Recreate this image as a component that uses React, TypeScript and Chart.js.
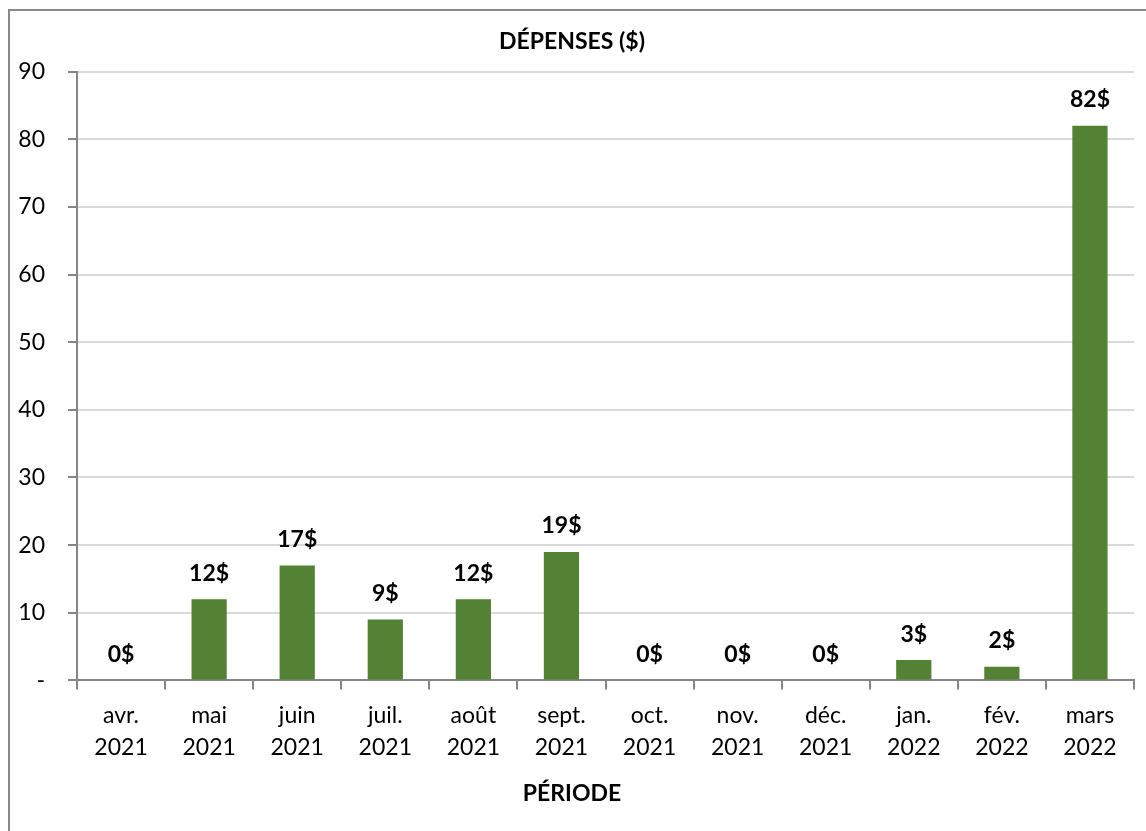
import React, { useEffect, useRef } from 'react';
import { Chart, registerables } from 'chart.js';

Chart.register(...registerables);

const categories: string[][] = [
  ['avr.', '2021'], ['mai', '2021'], ['juin', '2021'], ['juil.', '2021'],
  ['août', '2021'], ['sept.', '2021'], ['oct.', '2021'], ['nov.', '2021'],
  ['déc.', '2021'], ['jan.', '2022'], ['fév.', '2022'], ['mars', '2022'],
];
const depenses: number[] = [0, 12, 17, 9, 12, 19, 0, 0, 0, 3, 2, 82];
const yMin = 0;
const yMax = 90;
const yStep = 10;
const chartTitle = 'DÉPENSES ($)';
const xTitle = 'PÉRIODE';

const FONT = 'Lato';

const valueLabels = {
  id: 'valueLabels',
  afterDatasetsDraw(chart: any) {
    const ctx = chart.ctx;
    const meta = chart.getDatasetMeta(0);
    ctx.save();
    ctx.font = `bold 23px ${FONT}`;
    ctx.fillStyle = '#000';
    ctx.textAlign = 'center';
    ctx.textBaseline = 'middle';
    meta.data.forEach((el: any, i: number) => {
      ctx.fillText(`${depenses[i]}$`, el.x, el.y - 26);
    });
    ctx.restore();
  },
};

export default function App() {
  const ref = useRef<HTMLCanvasElement>(null);

  useEffect(() => {
    if (!ref.current) return;
    Chart.defaults.font.family = FONT;
    const chart = new Chart(ref.current, {
      type: 'bar',
      data: {
        labels: categories,
        datasets: [
          {
            data: depenses,
            backgroundColor: '#548235',
            barPercentage: 0.4,
            categoryPercentage: 1.0,
          },
        ],
      },
      options: {
        animation: false,
        responsive: false,
        devicePixelRatio: 1,
        layout: { padding: { left: 0, right: 12, top: 0, bottom: 0 } },
        plugins: {
          legend: { display: false },
          tooltip: { enabled: false },
          title: {
            display: true,
            text: chartTitle,
            color: '#000',
            font: { size: 23, weight: 'bold', lineHeight: 1.2 },
            padding: { top: 17, bottom: 16 },
          },
          subtitle: {
            display: true,
            position: 'bottom',
            text: xTitle,
            color: '#000',
            font: { size: 23, weight: 'bold', lineHeight: 1.2 },
            padding: { top: 0, bottom: 24 },
          },
        },
        scales: {
          x: {
            grid: {
              display: true,
              drawOnChartArea: false,
              drawTicks: true,
              tickLength: 9,
              color: '#868686',
              lineWidth: 2,
              offset: true,
            },
            border: { color: '#868686', width: 2 },
            ticks: {
              color: '#000',
              font: { size: 23, lineHeight: 32 / 23 },
              padding: 10,
              maxRotation: 0,
              autoSkip: false,
            },
            afterFit: (s: any) => {
              s.height = 99;
            },
          },
          y: {
            min: yMin,
            max: yMax,
            grid: {
              color: '#d9d9d9',
              lineWidth: 2,
              tickColor: '#868686',
              tickLength: 9,
            },
            border: { color: '#868686', width: 2 },
            ticks: {
              stepSize: yStep,
              padding: 23,
              color: '#000',
              font: { size: 23 },
              callback: (v: any) => (Number(v) === 0 ? '-' : String(v)),
            },
            afterFit: (s: any) => {
              s.width = 67;
            },
          },
        },
      },
      plugins: [valueLabels],
    } as any);
    return () => chart.destroy();
  }, []);

  return (
    <div
      style={{
        position: 'fixed',
        left: 8,
        top: 8,
        width: 1138,
        height: 823,
        overflow: 'hidden',
        background: '#fff',
      }}
    >
      <div
        style={{
          position: 'absolute',
          left: 0,
          top: 1,
          width: 1160,
          height: 900,
          border: '2px solid #898989',
          boxSizing: 'border-box',
        }}
      />
      <canvas
        ref={ref}
        width={1136}
        height={820}
        style={{ position: 'absolute', left: 2, top: 3, width: 1136, height: 820 }}
      />
    </div>
  );
}
